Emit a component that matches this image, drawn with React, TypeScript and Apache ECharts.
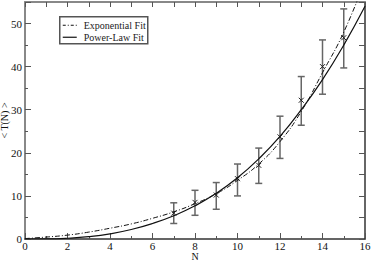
import React, { useEffect, useRef } from "react";
import * as echarts from "echarts";

const obsN = [7, 8, 9, 10, 11, 12, 13, 14, 15];
const obsMean = [6.0, 8.5, 10.2, 14.0, 17.1, 23.7, 32.2, 40.0, 46.7];
const obsLow = [3.6, 5.5, 6.9, 10.0, 12.9, 18.7, 26.4, 33.6, 39.7];
const obsHigh = [8.4, 11.3, 13.1, 17.4, 21.1, 28.5, 37.7, 46.2, 53.4];

const fitN = [0, 1, 2, 3, 4, 5, 6, 7, 8, 9, 10, 11, 12, 13, 14, 15, 16];
const expFit = [0.1, 0.45, 0.9, 1.6, 2.5, 3.5, 4.8, 6.3, 8.2, 10.5, 13.6, 17.4, 22.6, 29.6, 38.6, 48, 60];
const powFit = [0, 0.02, 0.18, 0.55, 1.2, 2.2, 3.6, 5.4, 7.7, 10.6, 14.2, 18.6, 23.8, 30, 37, 45, 54];

const legendLabels = ["Exponential Fit", "Power-Law Fit"];
const xTitle = "N";
const yTitle = "< T(N) >";

const FONT = "Liberation Serif";

export default function App() {
  const ref = useRef<HTMLDivElement>(null);
  useEffect(() => {
    const chart = echarts.init(ref.current!, null, { renderer: "svg" });
    const axisFont = { fontFamily: FONT, fontSize: 11, color: "#111" };
    chart.setOption({
      animation: false,
      backgroundColor: "#fff",
      textStyle: { fontFamily: FONT },
      grid: { left: 25, top: 2, right: 6, bottom: 21, containLabel: false, outerBoundsMode: "none" },
      xAxis: [
        {
          type: "value", min: 0, max: 16, interval: 2, position: "bottom",
          name: xTitle, nameLocation: "middle", nameGap: 13, nameMoveOverlap: false,
          nameTextStyle: { fontFamily: FONT, fontSize: 10, lineHeight: 8, color: "#111" },
          axisLine: { show: true, onZero: false, lineStyle: { color: "#333", width: 1.5 } },
          axisTick: { show: true, inside: true, length: 6, lineStyle: { color: "#555" } },
          minorTick: { show: true, splitNumber: 2, length: 3, lineStyle: { color: "#555" } },
          axisLabel: { ...axisFont, lineHeight: 10, margin: 2 },
          splitLine: { show: false },
        },
        {
          type: "value", min: 0, max: 16, interval: 1, position: "top",
          axisLine: { show: true, onZero: false, lineStyle: { color: "#888", width: 2 } },
          axisTick: { show: true, inside: true, length: 5, lineStyle: { color: "#555" } },
          axisLabel: { show: false },
          splitLine: { show: false },
        },
      ],
      yAxis: [
        {
          type: "value", min: 0, max: 55, interval: 10, position: "left",
          name: yTitle, nameLocation: "middle", nameGap: 16, nameRotate: 90, nameMoveOverlap: false,
          nameTextStyle: { fontFamily: FONT, fontSize: 10, color: "#111" },
          axisLine: { show: true, onZero: false, lineStyle: { color: "#888", width: 2 } },
          axisTick: { show: true, inside: true, length: 6, lineStyle: { color: "#555" } },
          minorTick: { show: true, splitNumber: 2, length: 3, lineStyle: { color: "#555" } },
          axisLabel: { ...axisFont, margin: 3, showMaxLabel: false },
          splitLine: { show: false },
        },
        {
          type: "value", min: 0, max: 55, interval: 5, position: "right",
          axisLine: { show: true, onZero: false, lineStyle: { color: "#333", width: 1.5 } },
          axisTick: { show: true, inside: true, length: 6, lineStyle: { color: "#555" } },
          axisLabel: { show: false },
          splitLine: { show: false },
        },
      ],
      series: [
        {
          name: legendLabels[0], type: "line", smooth: true, showSymbol: false, clip: true,
          data: fitN.map((n, i) => [n, expFit[i]]),
          lineStyle: { color: "#111", width: 1, type: [5, 2, 1, 2] },
        },
        {
          name: legendLabels[1], type: "line", smooth: true, showSymbol: false, clip: true,
          data: fitN.map((n, i) => [n, powFit[i]]),
          lineStyle: { color: "#111", width: 1.2 },
        },
        {
          type: "custom",
          data: obsN.map((n, i) => [n, obsMean[i], obsLow[i], obsHigh[i]]),
          encode: { x: 0, y: [1, 2, 3] },
          renderItem: (params: any, api: any) => {
            const x = api.value(0);
            const m = api.coord([x, api.value(1)]);
            const lo = api.coord([x, api.value(2)]);
            const hi = api.coord([x, api.value(3)]);
            const cap = 3.5;
            const mk = 2.5;
            const barStyle = { stroke: "#666", lineWidth: 1.5 };
            const mkStyle = { stroke: "#222", lineWidth: 1 };
            return {
              type: "group",
              children: [
                { type: "line", shape: { x1: lo[0], y1: lo[1], x2: hi[0], y2: hi[1] }, style: barStyle },
                { type: "line", shape: { x1: lo[0] - cap, y1: lo[1], x2: lo[0] + cap, y2: lo[1] }, style: barStyle },
                { type: "line", shape: { x1: hi[0] - cap, y1: hi[1], x2: hi[0] + cap, y2: hi[1] }, style: barStyle },
                { type: "line", shape: { x1: m[0] - mk, y1: m[1] - mk, x2: m[0] + mk, y2: m[1] + mk }, style: mkStyle },
                { type: "line", shape: { x1: m[0] - mk, y1: m[1] + mk, x2: m[0] + mk, y2: m[1] - mk }, style: mkStyle },
              ],
            };
          },
        },
      ],
      graphic: [
        {
          type: "group", left: 59, top: 16,
          children: [
            { type: "rect", shape: { x: 0, y: 0, width: 88, height: 27 }, style: { fill: "#fff", stroke: "#555", lineWidth: 1.5 } },
            { type: "line", shape: { x1: 3, y1: 8.5, x2: 17, y2: 8.5 }, style: { stroke: "#111", lineWidth: 1, lineDash: [3, 2, 1, 2] } },
            { type: "line", shape: { x1: 3, y1: 20.5, x2: 17, y2: 20.5 }, style: { stroke: "#111", lineWidth: 1.2 } },
            { type: "text", x: 24, y: 8.5, style: { text: legendLabels[0], font: "10px Liberation Serif", fill: "#222", verticalAlign: "middle" } },
            { type: "text", x: 24, y: 20.5, style: { text: legendLabels[1], font: "10px Liberation Serif", fill: "#222", verticalAlign: "middle" } },
          ],
        },
      ],
    });
    return () => chart.dispose();
  }, []);
  return <div ref={ref} style={{ width: 371, height: 260, position: "absolute", left: 0, top: 0 }} />;
}
